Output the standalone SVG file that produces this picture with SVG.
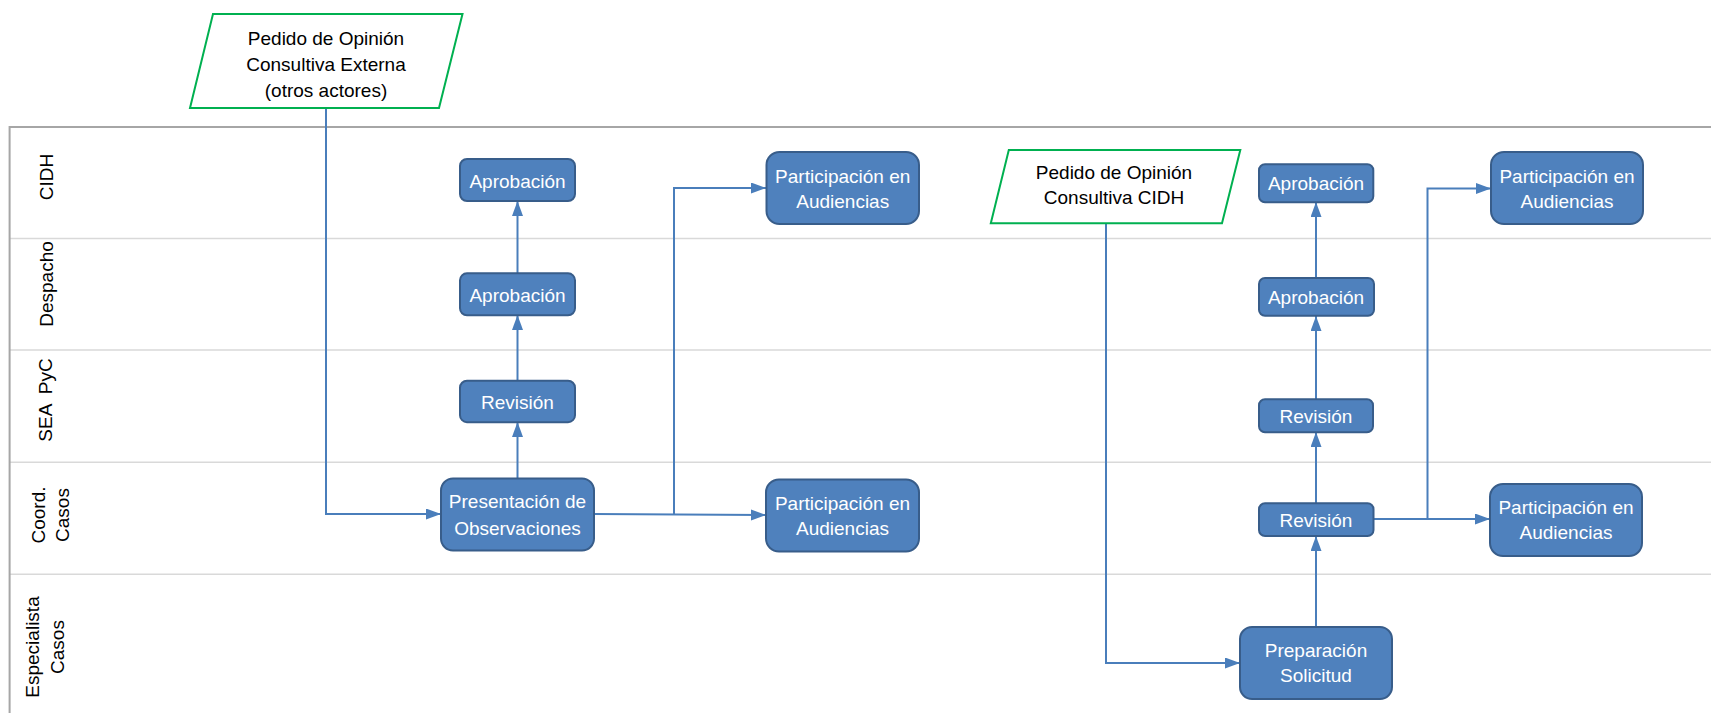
<svg xmlns="http://www.w3.org/2000/svg" width="1711" height="713" viewBox="0 0 1711 713">
<style>
  .frame{fill:none;stroke:#A6A6A6;stroke-width:2}
  .lane{fill:none;stroke:#D9D9D9;stroke-width:1.5}
  .lbl{font-family:"Liberation Sans",Arial,sans-serif;font-size:19px;fill:#000;text-anchor:middle;white-space:pre}
  .box{fill:#4F81BD;stroke:#385D8A;stroke-width:2}
  .btxt{font-family:"Liberation Sans",Arial,sans-serif;font-size:19px;fill:#FFFFFF;text-anchor:middle}
  .io{fill:#FFFFFF;stroke:#00B050;stroke-width:2}
  .iotxt{font-family:"Liberation Sans",Arial,sans-serif;font-size:19px;fill:#000;text-anchor:middle}
  .con{fill:none;stroke:#4A7EBB;stroke-width:2;marker-end:url(#arr)}
</style>
<defs>
  <marker id="arr" markerUnits="userSpaceOnUse" markerWidth="16" markerHeight="12" refX="15" refY="5.5" orient="auto">
    <path d="M0,0 L15,5.5 L0,11 z" fill="#4A7EBB"/>
  </marker>
</defs>
<rect width="1711" height="713" fill="#FFFFFF"/>
<g id="lanes">
  <line class="lane" x1="10" y1="238.5" x2="1711" y2="238.5"/>
  <line class="lane" x1="10" y1="350" x2="1711" y2="350"/>
  <line class="lane" x1="10" y1="462.3" x2="1711" y2="462.3"/>
  <line class="lane" x1="10" y1="574.3" x2="1711" y2="574.3"/>
  <path class="frame" d="M9.6,713 V127 H1711"/>
  <text class="lbl" transform="translate(53,177) rotate(-90)">CIDH</text>
  <text class="lbl" transform="translate(53,284) rotate(-90)">Despacho</text>
  <text class="lbl" transform="translate(52,400) rotate(-90)">SEA  PyC</text>
  <text class="lbl" transform="translate(44.6,515) rotate(-90)">Coord.</text>
  <text class="lbl" transform="translate(69,515) rotate(-90)">Casos</text>
  <text class="lbl" transform="translate(38.6,647) rotate(-90)">Especialista</text>
  <text class="lbl" transform="translate(64.3,647) rotate(-90)">Casos</text>
</g>
<g id="connectors">
  <path class="con" d="M326,108 V514 H441"/>
  <path class="con" d="M517.5,478 V422"/>
  <path class="con" d="M517.5,381 V315"/>
  <path class="con" d="M517.5,273 V201"/>
  <path class="con" d="M594,514 L766,515"/>
  <path class="con" d="M674,514 V188 H766"/>
  <path class="con" d="M1106,223 V663 H1240"/>
  <path class="con" d="M1316,627 V536"/>
  <path class="con" d="M1316,503 V432"/>
  <path class="con" d="M1316,399 V316"/>
  <path class="con" d="M1316,278 V202"/>
  <path class="con" d="M1373,519 H1490"/>
  <path class="con" d="M1427.5,519 V188.5 H1491"/>
</g>
<g id="pedido-externa">
  <polygon class="io" points="213,14 462.5,14 439,108 190,108"/>
  <text class="iotxt" x="326" y="45">Pedido de Opinión</text>
  <text class="iotxt" x="326" y="71">Consultiva Externa</text>
  <text class="iotxt" x="326" y="97">(otros actores)</text>
</g>
<g id="aprobacion-cidh-1">
  <rect class="box" x="460" y="159" width="115" height="42" rx="7"/>
  <text class="btxt" x="517.5" y="187.5">Aprobación</text>
</g>
<g id="aprobacion-despacho-1">
  <rect class="box" x="460" y="273.3" width="115" height="42" rx="7"/>
  <text class="btxt" x="517.5" y="301.7">Aprobación</text>
</g>
<g id="revision-sea-1">
  <rect class="box" x="460" y="380.7" width="115" height="41.5" rx="7"/>
  <text class="btxt" x="517.5" y="409">Revisión</text>
</g>
<g id="presentacion">
  <rect class="box" x="441" y="478.5" width="153" height="72" rx="12"/>
  <text class="btxt" x="517.5" y="508.3">Presentación de</text>
  <text class="btxt" x="517.5" y="535">Observaciones</text>
</g>
<g id="participacion-cidh-1">
  <rect class="box" x="766.5" y="152" width="152.5" height="72" rx="13"/>
  <text class="btxt" x="842.7" y="182.7">Participación en</text>
  <text class="btxt" x="842.7" y="208">Audiencias</text>
</g>
<g id="participacion-coord-1">
  <rect class="box" x="766" y="479.5" width="153" height="72" rx="13"/>
  <text class="btxt" x="842.5" y="510">Participación en</text>
  <text class="btxt" x="842.5" y="535">Audiencias</text>
</g>
<g id="pedido-cidh">
  <polygon class="io" points="1008.8,150 1240.3,150 1222,223.3 990.8,223.3"/>
  <text class="iotxt" x="1114" y="179">Pedido de Opinión</text>
  <text class="iotxt" x="1114" y="204">Consultiva CIDH</text>
</g>
<g id="aprobacion-cidh-2">
  <rect class="box" x="1259" y="164.3" width="114.3" height="38" rx="6"/>
  <text class="btxt" x="1316" y="190">Aprobación</text>
</g>
<g id="aprobacion-despacho-2">
  <rect class="box" x="1259" y="278" width="115" height="37.7" rx="6"/>
  <text class="btxt" x="1316" y="304">Aprobación</text>
</g>
<g id="revision-sea-2">
  <rect class="box" x="1259" y="399.3" width="114" height="33" rx="6"/>
  <text class="btxt" x="1316" y="423.3">Revisión</text>
</g>
<g id="revision-coord-2">
  <rect class="box" x="1259" y="503.3" width="114.5" height="32.7" rx="6"/>
  <text class="btxt" x="1316" y="527">Revisión</text>
</g>
<g id="participacion-cidh-2">
  <rect class="box" x="1491" y="152" width="152" height="72" rx="13"/>
  <text class="btxt" x="1567" y="183.3">Participación en</text>
  <text class="btxt" x="1567" y="208.3">Audiencias</text>
</g>
<g id="participacion-coord-2">
  <rect class="box" x="1490" y="484" width="152" height="72" rx="13"/>
  <text class="btxt" x="1566" y="514">Participación en</text>
  <text class="btxt" x="1566" y="539.3">Audiencias</text>
</g>
<g id="preparacion">
  <rect class="box" x="1240" y="627" width="152" height="72" rx="12"/>
  <text class="btxt" x="1316" y="656.7">Preparación</text>
  <text class="btxt" x="1316" y="681.7">Solicitud</text>
</g>
</svg>
